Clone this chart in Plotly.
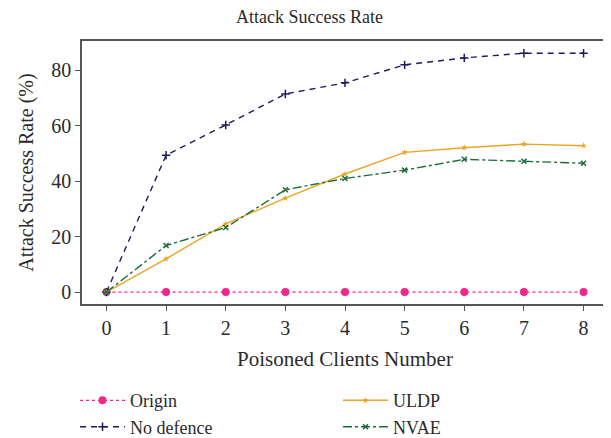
import plotly.graph_objects as go

clients = [0, 1, 2, 3, 4, 5, 6, 7, 8]
origin = [0, 0, 0, 0, 0, 0, 0, 0, 0]
no_defence = [0, 49.4, 60.3, 71.5, 75.5, 82.0, 84.5, 86.2, 86.2]
uldp = [0, 12.0, 24.6, 33.9, 42.6, 50.4, 52.1, 53.4, 52.8]
nvae = [0, 16.8, 23.3, 36.9, 41.0, 44.0, 47.9, 47.2, 46.5]

FONT = "Liberation Serif"
TXT = "#2b2b2b"
fig = go.Figure()
fig.add_trace(go.Scatter(x=clients, y=origin, name="Origin", mode="lines+markers",
                         line=dict(color="#f0288c", width=1.2, dash="dot"),
                         marker=dict(symbol="circle", size=8, color="#f0288c"), legendrank=1))
fig.add_trace(go.Scatter(x=clients, y=no_defence, name="No defence", mode="lines+markers",
                         line=dict(color="#1e1a5c", width=1.4, dash="6px,5px"),
                         marker=dict(symbol="cross-thin", size=6, line=dict(color="#1e1a5c", width=1.5)),
                         legendrank=3))
fig.add_trace(go.Scatter(x=clients, y=uldp, name="ULDP", mode="lines+markers",
                         line=dict(color="#e8a624", width=1.4),
                         marker=dict(symbol="star", size=5, color="#e8a624"), legendrank=2))
fig.add_trace(go.Scatter(x=clients, y=nvae, name="NVAE", mode="lines+markers",
                         line=dict(color="#1d6b3a", width=1.4, dash="dashdot"),
                         marker=dict(symbol="x-thin", size=5, line=dict(color="#1d6b3a", width=1.5)),
                         legendrank=4))

axis_common = dict(showline=True, linecolor="#555555", linewidth=1.5, mirror=True,
                   ticks="outside", ticklen=5, tickcolor="#555555", tickwidth=1.2,
                   showgrid=False, zeroline=False, automargin=False,
                   tickfont=dict(family=FONT, size=20, color=TXT))
fig.update_xaxes(range=[-0.41, 8.41], tickvals=clients,
                 title=dict(text="Poisoned Clients Number", font=dict(family=FONT, size=21, color=TXT), standoff=14),
                 **axis_common)
fig.update_yaxes(range=[-4.3, 90.6], tickvals=[0, 20, 40, 60, 80],
                 title=dict(text="Attack Success Rate (%)", font=dict(family=FONT, size=20, color=TXT), standoff=12),
                 **axis_common)
fig.update_layout(
    width=603, height=430,
    margin=dict(l=74, r=3, t=33, b=134, autoexpand=False),
    plot_bgcolor="white", paper_bgcolor="white",
    title=dict(text="Attack Success Rate", x=0.5, xanchor="center", y=0.979, yanchor="middle",
               font=dict(family=FONT, size=18, color=TXT)),
    legend=dict(orientation="h", x=-0.0133, y=-0.297, xanchor="left", yanchor="top",
                entrywidth=203, itemwidth=45, tracegroupgap=0, traceorder="normal",
                font=dict(family=FONT, size=18, color=TXT)),
)
fig.write_html("out.html")
